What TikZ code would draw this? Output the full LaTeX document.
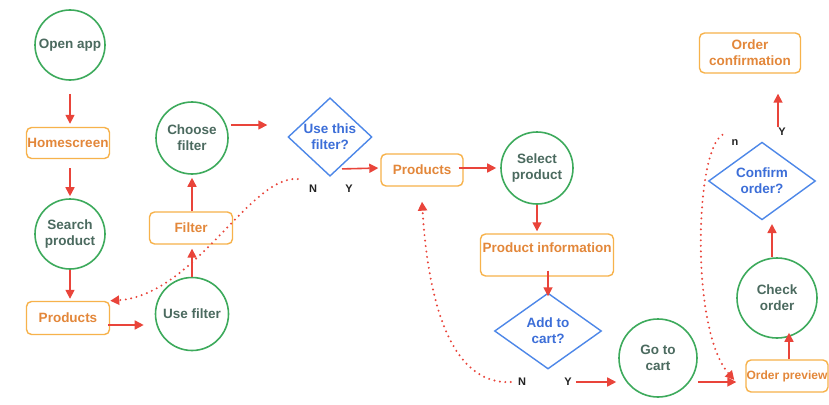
\documentclass[tikz,border=0pt]{standalone}
\usepackage{fontspec}
\setmainfont{Liberation Sans}
\usetikzlibrary{shapes.geometric,arrows.meta}
\definecolor{linecol}{HTML}{E9443A}
\definecolor{circcol}{HTML}{3DAA5C}
\definecolor{circtext}{HTML}{4B6A5F}
\definecolor{boxcol}{HTML}{F7B24B}
\definecolor{boxtext}{HTML}{E3873A}
\definecolor{querycol}{HTML}{4D87E8}
\definecolor{querytext}{HTML}{3C6ED8}
\definecolor{anscol}{HTML}{222222}

\begin{document}
\begin{tikzpicture}[x=1pt,y=-1pt,
	font=\fontsize{13.5}{16}\selectfont\bfseries,
	stepcirc/.style={circle,draw=circcol,line width=1.6pt,text=circtext,align=center,inner sep=0pt},
	stepbox/.style={rectangle,rounded corners=5pt,draw=boxcol,line width=1.4pt,text=boxtext,align=center,inner sep=0pt},
	query/.style={diamond,draw=querycol,line width=1.4pt,text=querytext,align=center,inner sep=0pt},
	answer/.style={font=\fontsize{11}{13}\selectfont\bfseries,text=anscol,inner sep=1pt},
	flow/.style={draw=linecol,line width=1.6pt,-{Triangle[length=9pt,width=9pt]}},
	back/.style={flow,line width=2.2pt,dash pattern=on 0pt off 5.5pt,line cap=round,-{Triangle[length=9pt,width=9pt]}}
]
\useasboundingbox[fill=white] (0,0) rectangle (829,404);

% steps
\foreach \name/\pos/\size/\txt in {
	open/{(70,45)}/70/{Open app},
	search/{(70,234)}/70/{Search\\product},
	usef/{(192,314)}/73/{Use filter},
	choose/{(192,138)}/72/{Choose\\filter},
	select/{(537,168)}/72/{Select\\product},
	gocart/{(658,358)}/78/{Go to\\cart},
	check/{(777,298)}/80/{Check\\order}%
	}{
	\node[stepcirc,minimum size=\size pt] (\name) at \pos {\txt};
	}

% screens
\foreach \name/\pos/\w/\h/\txt in {
	home/{(68,143)}/83/31/{Homescreen},
	prodA/{(68,318)}/83/33/{Products},
	filter/{(191,228)}/83/32/{Filter},
	prodB/{(422,170)}/82/32/{Products},
	orderconf/{(750,53)}/101/40/{Order\\confirmation}%
	}{
	\node[stepbox,minimum width=\w pt,minimum height=\h pt] (\name) at \pos {\txt};
	}
\node[stepbox,minimum width=133pt,minimum height=42pt,text depth=14pt] (prodinfo) at (547,255) {Product information};
\node[stepbox,minimum width=82pt,minimum height=32pt,font=\fontsize{12}{14}\selectfont\bfseries] (preview) at (787,376) {Order preview};

% decisions
\node[query,minimum width=84pt,minimum height=78pt] (usethis) at (330,137) {Use this\\filter?};
\node[query,minimum width=107pt,minimum height=76pt] (addcart) at (548,331) {Add to\\cart?};
\node[query,minimum width=107pt,minimum height=77pt] (confirm) at (762,181) {Confirm\\order?};

\node[answer] (nfilt) at (313,189) {N};
\node[answer] (yfilt) at (349,189) {Y};
\node[answer] (ncart) at (522,382) {N};
\node[answer] (ycart) at (568,382) {Y};
\node[answer] (nconf) at (735,143) {n};
\node[answer] (yconf) at (782,132) {Y};

% flow
\draw[flow,shorten <=13pt,shorten >=3pt] (open.south) -- (open.south |- home.north);
\draw[flow,shorten <=9pt,shorten >=2pt] (search.north |- home.south) -- (search.north);
\draw[flow,shorten >=2pt] (search.south) -- (search.south |- prodA.north);
\draw[flow,shorten <=-2pt,shorten >=11pt] ([yshift=-7pt]prodA.east) -- ([yshift=-11pt]usef.west);
\draw[flow,shorten >=4pt] (usef.north) -- (usef.north |- filter.south);
\draw[flow,shorten >=3pt] (choose.south |- filter.north) -- (choose.south);
\draw[flow,shorten <=2pt,shorten >=20pt] ([yshift=13pt]choose.east) -- ([yshift=12pt]usethis.west);
\draw[flow,shorten >=2pt] ([xshift=12pt,yshift=8pt]usethis.south) -- ([yshift=2pt]prodB.west);
\draw[flow,shorten <=-5pt,shorten >=4pt] ([yshift=2pt]prodB.east) -- (select.west);
\draw[flow,shorten >=2pt] (select.south) -- (select.south |- prodinfo.north);
\draw[flow,shorten <=-6pt,shorten >=-4pt] (addcart.north |- prodinfo.south) -- (addcart.north);
\draw[flow,shorten <=3pt,shorten >=2pt] (ycart.east) -- (ycart.east -| gocart.west);
\draw[flow,shorten >=9pt] ([yshift=-24pt]gocart.east) -- ([yshift=-6pt]preview.west);
\draw[flow,shorten >=-6pt] ([xshift=2pt]preview.north) -- ([xshift=2pt]preview.north |- check.south);
\draw[flow,shorten >=3.5pt] ([xshift=-5pt]check.north) -- ([xshift=-5pt]check.north |- confirm.south);
\draw[flow,shorten >=20pt] ([xshift=-4pt]yconf.north) -- ([xshift=-4pt]yconf.north |- orderconf.south);

% going back
\draw[back] ([xshift=-10pt,yshift=5pt]nfilt.north west) .. controls (250,175) and (195,295) .. (prodA.north east);
\draw[back] ([xshift=-6pt]ncart.west) .. controls (450,385) and (428,300) .. ([yshift=-15pt]prodB.south);
\draw[back] ([xshift=-8pt,yshift=4pt]nconf.north west) .. controls (695,150) and (690,330) .. ([xshift=-11pt,yshift=-4pt]preview.west);
\end{tikzpicture}
\end{document}
